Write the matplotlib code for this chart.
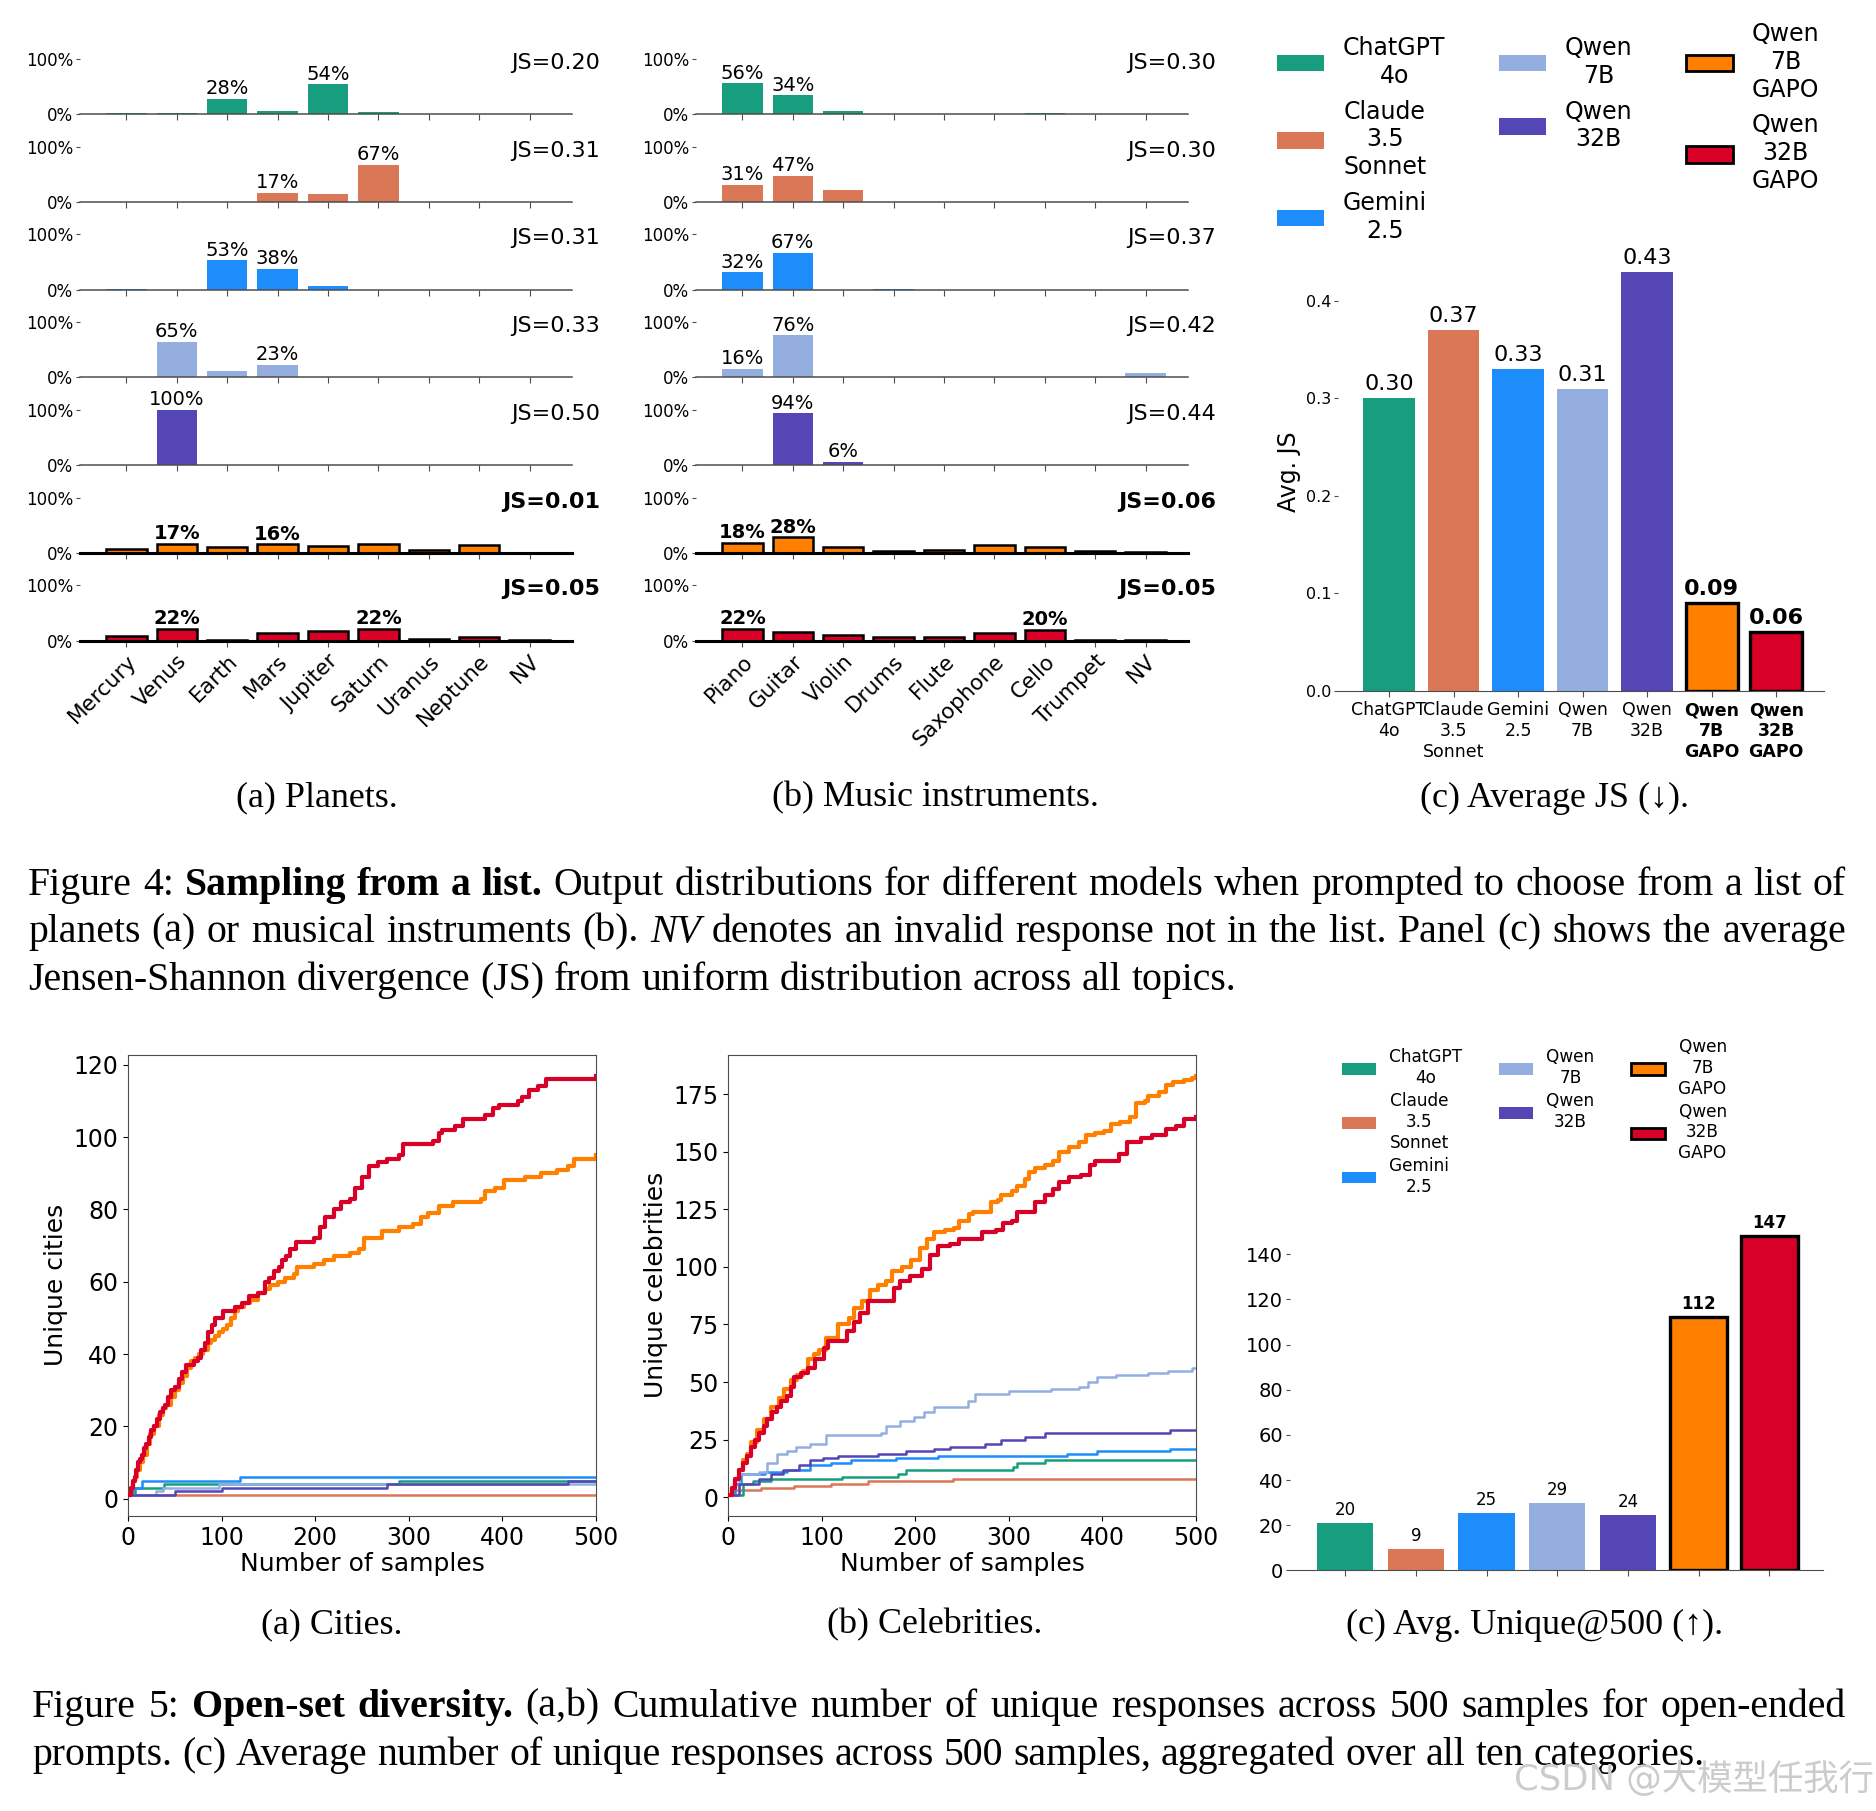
import numpy as np
import matplotlib
matplotlib.use('Agg')
import matplotlib.pyplot as plt
from matplotlib.patches import Patch
from matplotlib.transforms import IdentityTransform

# ---------------- data ----------------
models = ['ChatGPT\n4o', 'Claude\n3.5\nSonnet', 'Gemini\n2.5', 'Qwen\n7B', 'Qwen\n32B',
          'Qwen\n7B\nGAPO', 'Qwen\n32B\nGAPO']
colors = ['#169E7E', '#D97757', '#1C8DFA', '#93AEDF', '#5446B5', '#FF7F00', '#D80027']
gapo = [False, False, False, False, False, True, True]

planets = ['Mercury', 'Venus', 'Earth', 'Mars', 'Jupiter', 'Saturn', 'Uranus', 'Neptune', 'NV']
instruments = ['Piano', 'Guitar', 'Violin', 'Drums', 'Flute', 'Saxophone', 'Cello', 'Trumpet', 'NV']

# planets distribution (%) per model
pl_chatgpt = [2, 2, 28, 6, 54, 4, 0.3, 1, 0]
pl_claude = [0, 0, 0, 17, 15, 67, 0, 0, 0]
pl_gemini = [0.5, 0, 53, 38, 7, 0, 0, 0, 0]
pl_qwen7b = [0, 65, 11, 23, 0, 0, 0, 0, 0.8]
pl_qwen32b = [0, 100, 0, 0, 0, 0, 0, 0, 0]
pl_qwen7b_gapo = [7, 17, 11, 16, 13, 15.5, 6, 14, 0]
pl_qwen32b_gapo = [9, 22, 2, 13, 17, 22, 3, 7, 0.5]
js_planets = [0.20, 0.31, 0.31, 0.33, 0.50, 0.01, 0.05]

# music instrument distribution (%) per model
mu_chatgpt = [56, 34, 6, 0, 0, 0, 1.5, 0, 0]
mu_claude = [31, 47, 22, 0, 0, 0, 0, 0, 0]
mu_gemini = [32, 67, 0, 0.5, 0, 0, 0, 0, 0]
mu_qwen7b = [16, 76, 0, 0, 0, 0, 0, 0, 8]
mu_qwen32b = [0, 94, 6, 0, 0, 0, 0, 0, 0]
mu_qwen7b_gapo = [18, 28, 10, 3, 5, 15, 11, 3, 1]
mu_qwen32b_gapo = [22, 15, 11, 6, 7, 14.5, 20, 1, 1]
js_instruments = [0.30, 0.30, 0.37, 0.42, 0.44, 0.06, 0.05]

avg_js = [0.30, 0.37, 0.33, 0.31, 0.43, 0.09, 0.06]
avg_unique = [20.9, 9.5, 25.2, 29.7, 24.4, 112.2, 147.9]

# cumulative unique responses (step breakpoints: sample index, count)
cit_chatgpt_x = [1, 8, 38, 290, 500];            cit_chatgpt_y = [1, 3, 4, 5, 5]
cit_claude_x = [1, 500];                          cit_claude_y = [1, 1]
cit_gemini_x = [1, 5, 15, 120, 500];             cit_gemini_y = [1, 3, 5, 6, 6]
cit_qwen7b_x = [1, 30, 37, 97, 500];             cit_qwen7b_y = [1, 2, 3, 4, 4]
cit_qwen32b_x = [1, 50, 100, 277, 470, 500];     cit_qwen32b_y = [1, 2, 3, 4, 5, 5]
cit_qwen7b_gapo_x = [1, 3, 5, 7, 10, 13, 16, 20, 24, 28, 33, 37, 41, 46, 50, 55, 59, 63, 67, 72,
                     76, 80, 85, 89, 93, 97, 101, 106, 110, 114, 118, 124, 130, 139, 146, 152,
                     160, 168, 177, 181, 199, 209, 220, 237, 247, 252, 271, 290, 305, 313, 320,
                     332, 347, 377, 381, 392, 402, 424, 441, 458, 470, 477, 500]
cit_qwen7b_gapo_y = [1, 3, 5, 6, 8, 10, 12, 15, 18, 20, 23, 25, 26, 28, 30, 32, 34, 36, 38, 39,
                     40, 41, 43, 44, 45, 46, 47, 48, 50, 52, 53, 54, 55, 57, 58, 59,
                     60, 61, 62, 64, 65, 66, 67, 68, 69, 72, 74, 75, 76, 78, 79,
                     81, 82, 83, 85, 86, 88, 89, 90, 91, 92, 94, 95]
cit_qwen32b_gapo_x = [1, 3, 5, 7, 9, 11, 13, 15, 17, 19, 22, 25, 28, 31, 34, 37, 40, 43, 46, 50,
                      54, 58, 62, 66, 71, 75, 78, 82, 86, 90, 93, 101, 114, 122, 129, 139, 146,
                      151, 156, 161, 165, 169, 173, 180, 199, 205, 211, 220, 228, 237, 243, 250,
                      258, 267, 277, 290, 294, 326, 332, 335, 349, 358, 381, 390, 396, 417, 421,
                      428, 438, 447, 498, 500]
cit_qwen32b_gapo_y = [1, 3, 5, 6, 8, 10, 11, 12, 14, 15, 17, 19, 20, 22, 24, 25, 26, 28, 30, 31,
                      33, 35, 37, 37, 38, 39, 41, 43, 46, 48, 50, 52, 53, 54, 56, 57, 60,
                      61, 63, 64, 66, 67, 69, 71, 72, 75, 78, 80, 82, 83, 86, 89,
                      92, 93, 94, 95, 98, 99, 101, 102, 103, 105, 106, 108, 109, 110, 111,
                      113, 114, 116, 116, 117]

cel_chatgpt_x = [1, 16, 27, 46, 122, 182, 190, 305, 309, 339, 500]
cel_chatgpt_y = [1, 6, 7, 8, 9, 10, 12, 13, 15, 16, 16]
cel_claude_x = [1, 5, 35, 70, 110, 150, 240, 500]
cel_claude_y = [1, 3, 4, 5, 6, 7, 8, 8]
cel_gemini_x = [1, 8, 14, 40, 63, 88, 110, 131, 180, 224, 362, 394, 472, 500]
cel_gemini_y = [1, 6, 10, 11, 12, 14, 15, 16, 17, 18, 19, 20, 21, 21]
cel_qwen7b_x = [1, 12, 33, 42, 52, 63, 73, 88, 105, 163, 169, 184, 199, 209, 220, 256, 264, 300,
                345, 375, 385, 394, 415, 449, 470, 496, 500]
cel_qwen7b_y = [1, 10, 11, 15, 19, 20, 22, 23, 27, 28, 31, 33, 35, 37, 39, 42, 45, 46,
                47, 48, 50, 52, 53, 54, 55, 56, 56]
cel_qwen32b_x = [1, 12, 33, 46, 59, 76, 88, 101, 118, 160, 190, 220, 237, 275, 292, 317, 339, 472, 500]
cel_qwen32b_y = [1, 6, 8, 10, 12, 14, 16, 17, 18, 19, 20, 21, 22, 23, 25, 26, 28, 29, 29]
cel_qwen7b_gapo_x = [1, 4, 8, 12, 16, 20, 25, 31, 38, 46, 54, 60, 67, 74, 80, 86, 92, 97,
                     105, 118, 129, 135, 143, 152, 160, 169,
                     175, 186, 196, 205, 213, 220, 232, 241, 247, 258, 262, 281, 288, 292, 303,
                     309, 317, 322, 328, 339, 347, 354, 364, 375, 383, 392, 402, 409, 419, 430,
                     436, 445, 449, 460, 468, 475, 487, 496, 500]
cel_qwen7b_gapo_y = [1, 4, 8, 12, 16, 19, 24, 29, 34, 39, 43, 47, 51, 53, 55, 60, 62, 64,
                     69, 75, 78, 82, 85, 90, 92, 94,
                     98, 100, 103, 108, 112, 115, 116, 117, 120, 123, 124, 128, 129, 131, 133,
                     135, 138, 141, 143, 144, 146, 150, 152, 154, 157, 158, 159, 162, 163, 165,
                     171, 172, 174, 176, 179, 180, 181, 182, 183]
cel_qwen32b_gapo_x = [1, 4, 8, 12, 16, 20, 25, 29, 33, 38, 42, 47, 52, 57, 63, 67, 71, 78, 86, 93,
                      103, 107, 127, 135, 141, 150, 177,
                      184, 194, 207, 216, 224, 237, 247, 271, 286, 294, 303, 309, 328, 339, 347,
                      354, 364, 377, 387, 392, 418, 426, 441, 453, 468, 479, 487, 500]
cel_qwen32b_gapo_y = [1, 4, 8, 12, 15, 18, 22, 25, 28, 31, 34, 37, 39, 42, 44, 48, 52, 54, 56, 60,
                      65, 68, 72, 76, 80, 85, 91,
                      94, 96, 99, 105, 109, 110, 112, 115, 116, 119, 120, 124, 128, 131, 134,
                      137, 139, 140, 144, 146, 149, 154, 156, 157, 160, 161, 164, 165]

planet_rows = [pl_chatgpt, pl_claude, pl_gemini, pl_qwen7b, pl_qwen32b, pl_qwen7b_gapo, pl_qwen32b_gapo]
music_rows = [mu_chatgpt, mu_claude, mu_gemini, mu_qwen7b, mu_qwen32b, mu_qwen7b_gapo, mu_qwen32b_gapo]
cities = [(cit_chatgpt_x, cit_chatgpt_y), (cit_claude_x, cit_claude_y), (cit_gemini_x, cit_gemini_y),
          (cit_qwen7b_x, cit_qwen7b_y), (cit_qwen32b_x, cit_qwen32b_y),
          (cit_qwen7b_gapo_x, cit_qwen7b_gapo_y), (cit_qwen32b_gapo_x, cit_qwen32b_gapo_y)]
celebs = [(cel_chatgpt_x, cel_chatgpt_y), (cel_claude_x, cel_claude_y), (cel_gemini_x, cel_gemini_y),
          (cel_qwen7b_x, cel_qwen7b_y), (cel_qwen32b_x, cel_qwen32b_y),
          (cel_qwen7b_gapo_x, cel_qwen7b_gapo_y), (cel_qwen32b_gapo_x, cel_qwen32b_gapo_y)]

# ---------------- figure ----------------
W_PX, H_PX, DPI = 1876, 1811, 100
plt.rcParams['font.family'] = ['DejaVu Sans']
fig = plt.figure(figsize=(W_PX / DPI, H_PX / DPI), dpi=DPI)
fig.patch.set_facecolor('white')
renderer = fig.canvas.get_renderer()
SERIF = ['Liberation Serif', 'DejaVu Serif']
SPINE = '0.3'


def rect(x0, y0, x1, y1):
    return [x0 / W_PX, 1 - y1 / H_PX, (x1 - x0) / W_PX, (y1 - y0) / H_PX]


def draw_rows(x0, x1, cats, rows, js_vals):
    n = len(rows)
    for i in range(n):
        base = 114.3 + 87.73 * i
        ax = fig.add_axes(rect(x0, base - 55.3, x1, base))
        vals = np.array(rows[i], dtype=float)
        g = gapo[i]
        xs = np.arange(len(cats))
        ax.bar(xs, vals, width=0.8, color=colors[i],
               edgecolor='black' if g else 'none', linewidth=1.8 if g else 0)
        ax.set_ylim(0, 100)
        ax.set_xlim(-0.92, 8.84)
        for s in ['left', 'top', 'right']:
            ax.spines[s].set_visible(False)
        ax.spines['bottom'].set_color('black' if g else SPINE)
        ax.spines['bottom'].set_linewidth(2.2 if g else 1.1)
        ax.set_yticks([0, 100])
        ax.set_yticklabels(['0%', '100%'], fontsize=12)
        ax.tick_params(axis='y', length=3, width=0.8, pad=2, colors='0.3', labelcolor='black')
        ax.tick_params(axis='x', length=4, width=0.8, colors='0.3')
        ax.set_xticks(xs)
        if i == n - 1:
            ax.set_xticklabels(cats, rotation=45, ha='right', rotation_mode='anchor', fontsize=15.5)
            ax.tick_params(axis='x', labelcolor='black')
        else:
            ax.set_xticklabels([])
        order = np.argsort(-vals, kind='stable')[:2]
        for j in order:
            if vals[j] > 0:
                ax.text(j, vals[j] + 1, f"{vals[j]:.0f}%", ha='center', va='bottom',
                        fontsize=14, fontweight='bold' if g else 'normal')
        ax.annotate(f"JS={js_vals[i]:.2f}", xy=(1, 0.93), xycoords='axes fraction',
                    xytext=(20, 0), textcoords='offset points', ha='right', va='center',
                    fontsize=16, fontweight='bold' if g else 'normal')


draw_rows(80, 572, planets, planet_rows, js_planets)
draw_rows(696, 1188, instruments, music_rows, js_instruments)


def legend_handles():
    return [Patch(facecolor=c, edgecolor='black' if g else 'none', linewidth=2.0 if g else 0)
            for c, g in zip(colors, gapo)]


def bar_panel(ax, values, fmt, fs_val, bold_fs):
    xs = np.arange(len(models))
    ax.bar(xs, values, width=0.8, color=colors,
           edgecolor=['black' if g else 'none' for g in gapo],
           linewidth=[2.4 if g else 0 for g in gapo])
    for s in ['left', 'top', 'right']:
        ax.spines[s].set_visible(False)
    ax.spines['bottom'].set_color(SPINE)
    ax.set_xticks(xs)
    ax.tick_params(axis='y', length=3, width=0.8, pad=2, colors='0.3', labelcolor='black')
    ax.tick_params(axis='x', length=4, width=0.8, colors='0.3', labelcolor='black')
    for x, v, g in zip(xs, values, gapo):
        ax.annotate(fmt(v), xy=(x, v), xytext=(0, 3), textcoords='offset points',
                    ha='center', va='bottom', fontsize=bold_fs if g else fs_val,
                    fontweight='bold' if g else 'normal')


# ---- (c) average JS ----
axc = fig.add_axes(rect(1338, 252.4, 1824, 690.7))
bar_panel(axc, avg_js, lambda v: f"{v:.2f}", 16, 16)
axc.set_ylim(0, 0.45)
axc.set_xlim(-0.79, 6.74)
axc.set_yticks([0, 0.1, 0.2, 0.3, 0.4])
axc.tick_params(axis='y', labelsize=11.5)
axc.set_xticklabels(models, fontsize=12.5)
for lab, g in zip(axc.get_xticklabels(), gapo):
    if g:
        lab.set_fontweight('bold')
axc.set_ylabel('Avg. JS', fontsize=17)
axc.yaxis.set_label_coords(-0.076, 0.5)

leg1 = fig.legend(legend_handles(), models, loc='upper left', ncol=3, frameon=False,
                  bbox_to_anchor=(1277 / W_PX, 1 - 22 / H_PX), bbox_transform=fig.transFigure,
                  borderpad=0, borderaxespad=0, fontsize=17, columnspacing=2.25)
for t in leg1.get_texts():
    t.set_multialignment('center')

# ---- Figure 5 (a),(b) lines ----
def line_panel(ax, series, ylabel, yticks):
    order = [1, 0, 2, 3, 4, 5, 6]
    for i in order:
        xs, ys = series[i]
        ax.step(xs, ys, where='post', color=colors[i], linewidth=3.0 if gapo[i] else 1.8,
                zorder=3 if gapo[i] else 2)
    ax.set_xlim(0, 500)
    ax.set_xticks([0, 100, 200, 300, 400, 500])
    ax.set_yticks(yticks)
    ax.tick_params(labelsize=17)
    ax.set_xlabel('Number of samples', fontsize=18, labelpad=2)
    ax.set_ylabel(ylabel, fontsize=18)
    for s in ax.spines.values():
        s.set_color('0.3')


axA = fig.add_axes(rect(128, 1054.6, 596, 1516))
line_panel(axA, cities, 'Unique cities', [0, 20, 40, 60, 80, 100, 120])
axB = fig.add_axes(rect(728, 1054.6, 1196, 1516))
line_panel(axB, celebs, 'Unique celebrities', [0, 25, 50, 75, 100, 125, 150, 175])

# ---- (c) avg unique ----
axU = fig.add_axes(rect(1290, 1220.4, 1823, 1570.4))
bar_panel(axU, avg_unique, lambda v: f"{int(v)}", 12, 12)
axU.set_ylim(0, 155)
axU.set_xlim(-0.78, 6.76)
axU.set_yticks([0, 20, 40, 60, 80, 100, 120, 140])
axU.tick_params(axis='y', labelsize=14)
axU.set_xticklabels([])

leg2 = fig.legend(legend_handles(), models, loc='upper left', ncol=3, frameon=False,
                  bbox_to_anchor=(1342 / W_PX, 1 - 1038 / H_PX), bbox_transform=fig.transFigure,
                  borderpad=0, borderaxespad=0, fontsize=12.2, columnspacing=2.15,
                  labelspacing=0.3)
for t in leg2.get_texts():
    t.set_multialignment('center')

# ---------------- captions ----------------
def px_text(x, y_top, s, **kw):
    return fig.text(x, H_PX - y_top, s, transform=IdentityTransform(), **kw)


def words_of(segs):
    out = []
    for txt, wt, st in segs:
        for w in txt.split():
            out.append((w, wt, st))
    return out


def natural_width(segs, fs):
    ws = words_of(segs)
    total = 0
    for w, wt, st in ws:
        t = fig.text(0, 0, w, fontsize=fs, family=SERIF, fontweight=wt, fontstyle=st)
        total += t.get_window_extent(renderer).width
        t.remove()
    return total + 0.25 * fs * DPI / 72 * (len(ws) - 1)


def caption_line(segs, x0, ybase, width, fs, justify):
    ws = words_of(segs)
    arts, widths = [], []
    for w, wt, st in ws:
        t = px_text(0, ybase, w, fontsize=fs, family=SERIF, fontweight=wt, fontstyle=st,
                    va='baseline', ha='left')
        arts.append(t)
        widths.append(t.get_window_extent(renderer).width)
    if justify and len(ws) > 1:
        gap = (width - sum(widths)) / (len(ws) - 1)
    else:
        gap = 0.25 * fs * DPI / 72
    x = x0
    for t, w in zip(arts, widths):
        t.set_position((x, H_PX - ybase))
        x += w + gap


N, B, I = 'normal', 'bold', 'italic'
cap4 = [
    [("Figure 4: ", N, N), ("Sampling from a list.", B, N),
     (" Output distributions for different models when prompted to choose from a list of", N, N)],
    [("planets (a) or musical instruments (b). ", N, N), ("NV", N, I),
     (" denotes an invalid response not in the list. Panel (c) shows the average", N, N)],
    [("Jensen-Shannon divergence (JS) from uniform distribution across all topics.", N, N)],
]
cap5 = [
    [("Figure 5: ", N, N), ("Open-set diversity.", B, N),
     (" (a,b) Cumulative number of unique responses across 500 samples for open-ended", N, N)],
    [("prompts. (c) Average number of unique responses across 500 samples, aggregated over all ten categories.", N, N)],
]

fs4 = 26 * 1208 / natural_width(cap4[2], 26)
fs5 = 26 * 1675 / natural_width(cap5[1], 26)
fs_cap = 0.5 * (fs4 + fs5)
for k, (segs, yb) in enumerate(zip(cap4, [895, 941.7, 990])):
    caption_line(segs, 28, yb, 1818, fs_cap, justify=(k < 2))
for k, (segs, yb) in enumerate(zip(cap5, [1716.7, 1765])):
    caption_line(segs, 32, yb, 1814, fs_cap, justify=(k < 1))

sub_fs = 26 * 379 / natural_width([("(c) Avg. Unique@500 (↑).", N, N)], 26)
for x, y, s in [(317, 798, '(a) Planets.'), (935, 798, '(b) Music instruments.'),
                (1554, 798, '(c) Average JS (↓).'),
                (332, 1625, '(a) Cities.'), (935, 1625, '(b) Celebrities.'),
                (1535, 1625, '(c) Avg. Unique@500 (↑).')]:
    px_text(x, y, s, fontsize=sub_fs, family=SERIF, ha='center', va='center')

px_text(1874, 1779, 'CSDN @大模型任我行', fontsize=25.5, color='#cccccc', ha='right', va='center',
        family=['DejaVu Sans', 'Noto Sans CJK SC'])

fig.savefig('out.png', dpi=DPI, facecolor='white')
